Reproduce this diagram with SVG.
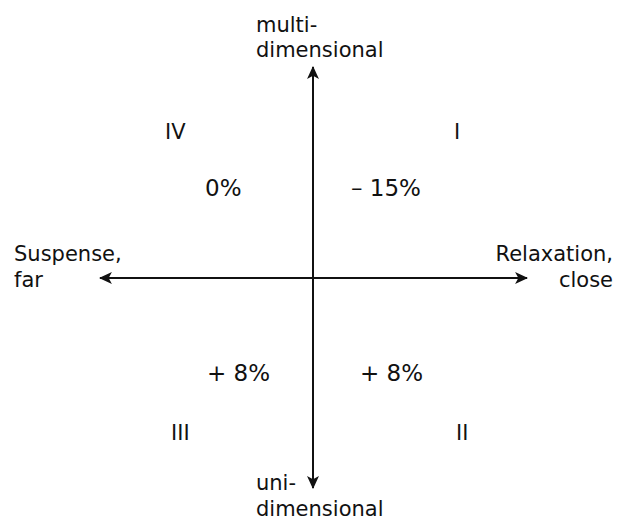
<svg xmlns="http://www.w3.org/2000/svg" width="628" height="524" viewBox="0 0 628 524">
<style>
text{font-family:"DejaVu Sans","Liberation Sans",sans-serif;font-size:21px;fill:#111}
.pc{font-size:23px}
.ax{stroke:#111;stroke-width:2;fill:none}
</style>
<defs>
<marker id="ah" viewBox="0 0 12 12" refX="11" refY="6" markerWidth="13" markerHeight="13" markerUnits="userSpaceOnUse" orient="auto">
<path d="M0,0.5 L12,6 L0,11.5 L3,6 Z" fill="#111"/>
</marker>
</defs>
<rect width="628" height="524" fill="#fff"/>
<g id="connectors">
<line class="ax" x1="313" y1="278" x2="313" y2="67" marker-end="url(#ah)"/>
<line class="ax" x1="313" y1="278" x2="313" y2="488" marker-end="url(#ah)"/>
<line class="ax" x1="313" y1="278" x2="100" y2="278" marker-end="url(#ah)"/>
<line class="ax" x1="313" y1="278" x2="527" y2="278" marker-end="url(#ah)"/>
</g>
<g id="top-label"><text x="256" y="32">multi-</text><text x="256" y="57">dimensional</text></g>
<g id="bottom-label"><text x="256" y="490">uni-</text><text x="256" y="516">dimensional</text></g>
<g id="left-label"><text x="14" y="261">Suspense,</text><text x="14" y="287">far</text></g>
<g id="right-label"><text x="613" y="261" text-anchor="end">Relaxation,</text><text x="613" y="287" text-anchor="end">close</text></g>
<g id="q4"><text x="165" y="139">IV</text><text class="pc" x="205" y="196">0%</text></g>
<g id="q1"><text x="454" y="139">I</text><text class="pc" x="351" y="196">– 15%</text></g>
<g id="q3"><text x="171" y="440">III</text><text class="pc" x="207" y="381">+ 8%</text></g>
<g id="q2"><text x="456" y="440">II</text><text class="pc" x="360" y="381">+ 8%</text></g>
</svg>
